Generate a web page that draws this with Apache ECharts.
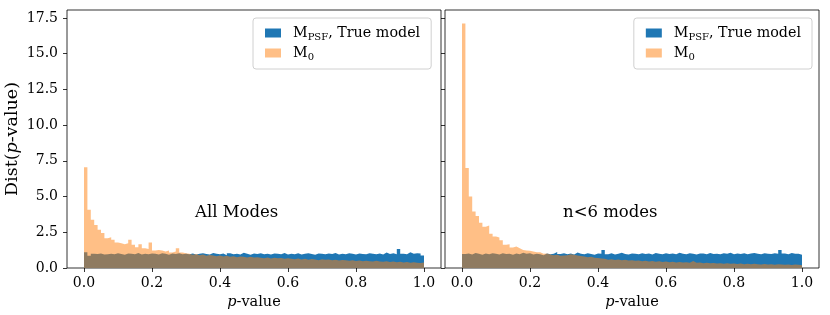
<!DOCTYPE html>
<html>
<head>
<meta charset="utf-8">
<script src="https://cdn.jsdelivr.net/npm/echarts@6/dist/echarts.min.js"></script>
<style>html,body{margin:0;padding:0;background:#fff;}#c{width:830px;height:315px;}</style>
</head>
<body>
<div id="c"></div>
<script>
// Histogram bins: 100 bins of width 0.01 from 0 to 1
const BIN_WIDTH = 0.01;
const X_TICKS = [0, 0.2, 0.4, 0.6, 0.8, 1.0];
const Y_TICKS = [0, 2.5, 5, 7.5, 10, 12.5, 15, 17.5];
const SERIES_NAMES = ['M_PSF', 'M0'];
const PANEL_LABELS = ['All Modes', 'n<6 modes'];

// Left panel (All Modes)
const leftPSF = [
  1.10, 0.85, 1.00, 0.98, 1.02, 0.95, 0.97, 1.00, 0.96, 1.04,
  0.98, 0.93, 1.02, 1.00, 0.97, 1.05, 0.94, 1.00, 0.96, 1.02,
  0.99, 0.95, 1.03, 1.00, 0.92, 1.01, 0.98, 1.04, 0.96, 1.00,
  0.97, 1.02, 0.95, 1.00, 1.03, 0.98, 0.94, 1.05, 0.99, 0.96,
  1.02, 0.90, 1.04, 0.97, 1.00, 0.95, 1.06, 0.99, 0.93, 1.01,
  0.98, 1.03, 0.96, 1.00, 0.94, 1.02, 0.99, 0.97, 1.05, 0.95,
  1.00, 0.97, 1.03, 0.95, 0.99, 1.04, 0.98, 0.93, 1.02, 1.00,
  0.96, 1.01, 0.98, 1.05, 0.94, 1.00, 0.97, 1.03, 0.99, 0.95,
  1.02, 0.98, 0.96, 1.04, 1.00, 0.97, 1.01, 0.95, 1.08, 0.98,
  1.03, 0.96, 1.33, 1.00, 0.97, 1.10, 0.99, 1.04, 1.02, 0.88
];
const leftM0 = [
  7.05, 4.07, 3.37, 3.00, 2.67, 2.44, 2.08, 2.15, 1.97, 1.78,
  1.73, 1.66, 1.73, 1.97, 1.62, 1.45, 1.66, 1.38, 1.33, 1.78,
  1.22, 1.26, 1.22, 1.15, 1.22, 1.08, 1.15, 1.38, 1.08, 1.03,
  1.00, 0.93, 0.98, 0.90, 0.94, 0.86, 0.91, 0.88, 0.83, 0.87,
  0.80, 0.86, 0.79, 0.82, 0.76, 0.81, 0.78, 0.74, 0.79, 0.73,
  0.76, 0.71, 0.69, 0.74, 0.67, 0.72, 0.68, 0.70, 0.64, 0.68,
  0.65, 0.61, 0.67, 0.60, 0.64, 0.58, 0.63, 0.59, 0.55, 0.62,
  0.57, 0.60, 0.54, 0.58, 0.52, 0.56, 0.55, 0.50, 0.54, 0.49,
  0.53, 0.47, 0.51, 0.48, 0.45, 0.50, 0.46, 0.43, 0.48, 0.42,
  0.45, 0.40, 0.44, 0.38, 0.42, 0.36, 0.41, 0.37, 0.35, 0.39
];

// Right panel (n<6 modes)
const rightPSF = [
  0.98, 1.02, 0.95, 1.05, 1.00, 0.93, 1.02, 0.97, 1.04, 0.99,
  0.94, 1.03, 0.98, 1.00, 0.92, 1.01, 0.97, 1.06, 0.99, 1.03,
  0.95, 1.00, 0.97, 0.90, 1.02, 0.96, 0.99, 1.12, 0.98, 1.04,
  0.97, 1.01, 0.95, 1.08, 1.00, 0.96, 1.03, 0.98, 0.93, 1.02,
  0.99, 1.26, 0.97, 1.04, 0.95, 1.00, 1.06, 0.98, 0.94, 1.02,
  1.00, 0.96, 1.03, 0.98, 1.01, 0.95, 1.05, 0.99, 0.97, 1.03,
  0.98, 1.02, 0.96, 1.07, 1.00, 0.97, 1.04, 0.99, 0.95, 1.02,
  1.01, 0.97, 1.05, 0.98, 1.00, 0.96, 1.03, 0.99, 1.06, 0.97,
  1.02, 0.98, 1.04, 0.96, 1.01, 1.05, 0.99, 0.97, 1.03, 1.00,
  0.98, 1.04, 0.99, 1.26, 1.02, 0.97, 1.05, 1.00, 0.99, 0.93
];
const rightM0 = [
  17.10, 7.00, 5.00, 3.96, 3.63, 3.16, 2.88, 2.97, 2.39, 2.20,
  2.13, 1.94, 1.62, 1.66, 1.43, 1.50, 1.38, 1.26, 1.22, 1.20,
  1.15, 1.10, 1.10, 1.00, 1.02, 0.95, 0.90, 0.92, 0.86, 0.88,
  0.90, 0.96, 0.93, 0.88, 0.84, 0.80, 0.76, 0.78, 0.72, 0.70,
  0.66, 0.64, 0.58, 0.62, 0.56, 0.60, 0.54, 0.57, 0.52, 0.55,
  0.50, 0.53, 0.48, 0.51, 0.46, 0.49, 0.44, 0.47, 0.42, 0.45,
  0.41, 0.43, 0.39, 0.42, 0.38, 0.40, 0.37, 0.49, 0.36, 0.39,
  0.34, 0.37, 0.33, 0.35, 0.32, 0.34, 0.30, 0.33, 0.29, 0.32,
  0.28, 0.31, 0.27, 0.30, 0.26, 0.29, 0.27, 0.25, 0.28, 0.24,
  0.27, 0.23, 0.26, 0.25, 0.22, 0.25, 0.21, 0.24, 0.22, 0.20
];

const FONT = 'DejaVu Serif';
const BLUE = '#1f77b4';
const ORANGE = 'rgba(255,127,14,0.5)';

function stepData(vals) {
  const d = vals.map((v, i) => [+(i * BIN_WIDTH).toFixed(2), v]);
  d.push([+(vals.length * BIN_WIDTH).toFixed(2), vals[vals.length - 1]]);
  return d;
}

const chart = echarts.init(document.getElementById('c'), null, {renderer: 'canvas'});

function xAxisCfg(idx) {
  return {
    type: 'value', gridIndex: idx, min: -0.05, max: 1.05,
    name: '{i|p}-value', nameLocation: 'middle', nameGap: 22,
    nameTextStyle: {fontFamily: FONT, fontSize: 14.5, color: '#000',
      rich: {i: {fontFamily: FONT, fontSize: 14.5, fontStyle: 'italic', color: '#000'}}},
    axisLine: {show: false, onZero: false},
    splitLine: {show: false},
    axisTick: {show: true, length: 4, customValues: X_TICKS, lineStyle: {color: '#000', width: 0.8}},
    axisLabel: {show: true, customValues: X_TICKS, margin: 8, fontFamily: FONT, fontSize: 14, color: '#000',
      formatter: v => v.toFixed(1)}
  };
}
function yAxisCfg(idx, showLabels) {
  return {
    type: 'value', gridIndex: idx, min: 0, max: 18.05,
    name: showLabels ? 'Dist({i|p}-value)' : '', nameLocation: 'middle', nameGap: 46,
    nameTextStyle: {fontFamily: FONT, fontSize: 17.5, color: '#000',
      rich: {i: {fontFamily: FONT, fontSize: 17.5, fontStyle: 'italic', color: '#000'}}},
    axisLine: {show: false, onZero: false},
    splitLine: {show: false},
    axisTick: {show: true, length: 4, customValues: Y_TICKS, lineStyle: {color: '#000', width: 0.8}},
    axisLabel: {show: showLabels, customValues: Y_TICKS, margin: 9, fontFamily: FONT, fontSize: 14, color: '#000',
      formatter: v => v.toFixed(1)}
  };
}
function legendCfg(pos) {
  return Object.assign({
    top: 18, orient: 'vertical', icon: 'rect', itemWidth: 16, itemHeight: 9, itemGap: 4,
    padding: [8, 11, 7, 12], borderColor: '#d0d0d0', borderWidth: 1, borderRadius: 3,
    backgroundColor: 'rgba(255,255,255,0.8)', selectedMode: false,
    data: [
      {name: SERIES_NAMES[0], itemStyle: {color: BLUE}},
      {name: SERIES_NAMES[1], itemStyle: {color: ORANGE}}
    ],
    formatter: n => n === SERIES_NAMES[0] ? '{m|M}{s|PSF}{m|, True model}' : '{m|M}{s|0}',
    textStyle: {padding: [0, 0, 0, 7], rich: {
      m: {fontFamily: FONT, fontSize: 14.3, color: '#000', lineHeight: 18},
      s: {fontFamily: FONT, fontSize: 10, color: '#000', lineHeight: 12, verticalAlign: 'bottom'}
    }}
  }, pos);
}
function seriesCfg(name, vals, idx, color) {
  return {
    type: 'line', name: name, xAxisIndex: idx, yAxisIndex: idx,
    step: 'end', symbol: 'none', showSymbol: false,
    data: stepData(vals),
    itemStyle: {color: color},
    lineStyle: {width: 0, opacity: 0},
    areaStyle: {color: color, opacity: 1},
    emphasis: {disabled: true}, silent: true
  };
}

chart.setOption({
  animation: false,
  backgroundColor: '#fff',
  grid: [
    {left: 67, right: 389, top: 10, bottom: 47, show: true, borderColor: '#000', borderWidth: 0.8, backgroundColor: 'transparent'},
    {left: 445, right: 11, top: 10, bottom: 47, show: true, borderColor: '#000', borderWidth: 0.8, backgroundColor: 'transparent'}
  ],
  xAxis: [xAxisCfg(0), xAxisCfg(1)],
  yAxis: [yAxisCfg(0, true), yAxisCfg(1, false)],
  legend: [legendCfg({left: 253}), legendCfg({right: 18})],
  series: [
    seriesCfg(SERIES_NAMES[0], leftPSF, 0, BLUE),
    seriesCfg(SERIES_NAMES[1], leftM0, 0, ORANGE),
    seriesCfg(SERIES_NAMES[0], rightPSF, 1, BLUE),
    seriesCfg(SERIES_NAMES[1], rightM0, 1, ORANGE)
  ],
  graphic: [
    {type: 'text', left: 195, top: 204, style: {text: PANEL_LABELS[0], fontFamily: FONT, fontSize: 16.5, fill: '#000'}},
    {type: 'text', left: 563, top: 204, style: {text: PANEL_LABELS[1], fontFamily: FONT, fontSize: 16.5, fill: '#000'}}
  ]
});
</script>
</body>
</html>
